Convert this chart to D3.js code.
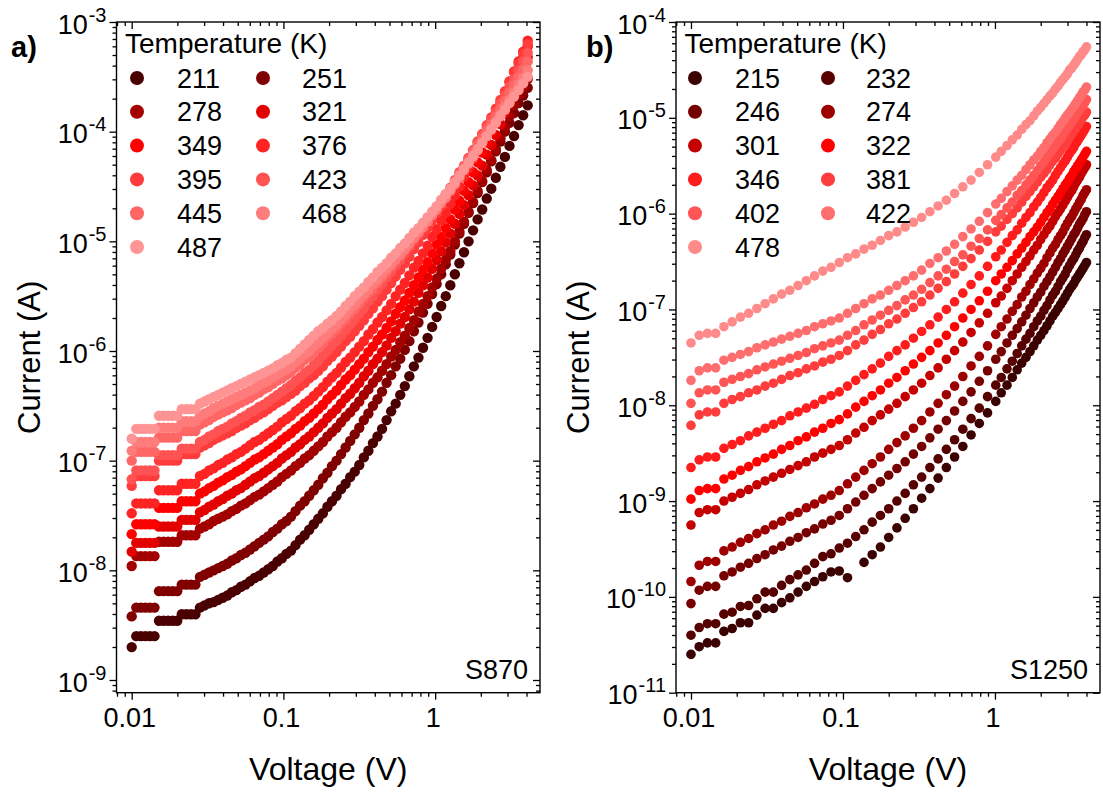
<!DOCTYPE html>
<html>
<head>
<meta charset="utf-8">
<title>I-V curves S870 / S1250</title>
<script src="https://cdn.jsdelivr.net/npm/d3@7/dist/d3.min.js"></script>
<style>
  body { margin: 0; background: #fff; }
  svg text { font-family: "Liberation Sans", Arial, Helvetica, sans-serif; fill: #000; }
</style>
</head>
<body>
<svg id="chart" width="1103" height="794"></svg>
<script>
// voltage steps (V) of the two measurements
const voltageA = [0.0100,0.01072,0.01148,0.01230,0.01318,0.01413,0.01514,0.01622,0.01738,0.01862,0.01995,0.02138,0.02291,0.02455,0.02630,0.02818,0.03020,0.03236,0.03467,0.03715,0.03981,0.04266,0.04571,0.04898,0.05248,0.05623,0.06026,0.06457,0.06918,0.07413,0.07943,0.08511,0.09120,0.09772,0.1047,0.1122,0.1202,0.1288,0.1380,0.1479,0.1585,0.1698,0.1820,0.1950,0.2089,0.2239,0.2399,0.2570,0.2754,0.2951,0.3162,0.3388,0.3631,0.3890,0.4169,0.4467,0.4786,0.5129,0.5495,0.5888,0.6310,0.6761,0.7244,0.7762,0.8318,0.8913,0.9550,1.023,1.096,1.175,1.259,1.349,1.445,1.549,1.660,1.778,1.905,2.042,2.188,2.344,2.512,2.692,2.884,3.090,3.311,3.548,3.802,4.074];
const voltageB = [0.0100,0.01133,0.01283,0.01454,0.01647,0.01866,0.02114,0.02395,0.02714,0.03074,0.03483,0.03946,0.04471,0.05066,0.05740,0.06501,0.07365,0.08345,0.09454,0.1071,0.1213,0.1375,0.1557,0.1764,0.1999,0.2265,0.2566,0.2907,0.3293,0.3731,0.4227,0.4789,0.5425,0.6146,0.6963,0.7888,0.8937,1.012,
                  1.1,1.2,1.3,1.4,1.5,1.6,1.7,1.8,1.9,2.0,2.1,2.2,2.3,2.4,2.5,2.6,2.7,2.8,2.9,3.0,3.1,3.2,3.3,3.4,3.5,3.6,3.7,3.8,3.9,4.0];

// temperatures (K) in the legends
const tempsA = [211, 251, 278, 321, 349, 376, 395, 423, 445, 468, 487];
const tempsB = [215, 232, 246, 274, 301, 322, 346, 381, 402, 422, 478];

const colorsA = ["#4a0000","#800000","#a30000","#e30000","#ff0000","#ff2424","#ff3b3b","#ff5252","#ff6666","#ff7c7c","#ff9494"];
const colorsB = ["#3b0000","#560000","#760000","#9e0000","#c40000","#ff0000","#ff1c1c","#ff3d3d","#ff5555","#ff6e6e","#ff8a8a"];

// sample S870: log10 of current (A) at each voltageA step
const a211 = [-8.70,-8.60,-8.60,-8.60,-8.60,-8.60,-8.46,-8.46,-8.46,-8.46,-8.46,-8.40,-8.40,-8.40,-8.40,-8.34,-8.32,-8.30,-8.29,-8.27,-8.25,-8.23,-8.20,-8.18,-8.15,-8.13,-8.10,-8.07,-8.05,-8.02,-7.99,-7.96,-7.92,-7.89,-7.85,-7.82,-7.77,-7.72,-7.68,-7.63,-7.58,-7.53,-7.48,-7.42,-7.37,-7.32,-7.26,-7.21,-7.15,-7.10,-7.04,-6.97,-6.91,-6.84,-6.78,-6.71,-6.63,-6.55,-6.48,-6.40,-6.32,-6.23,-6.14,-6.06,-5.97,-5.88,-5.78,-5.69,-5.59,-5.50,-5.40,-5.30,-5.20,-5.10,-5.00,-4.90,-4.80,-4.71,-4.61,-4.52,-4.42,-4.32,-4.23,-4.13,-4.04,-3.94,-3.85,-3.76];
const a251 = [-8.42,-8.34,-8.34,-8.34,-8.34,-8.34,-8.19,-8.19,-8.19,-8.19,-8.19,-8.13,-8.13,-8.13,-8.13,-8.06,-8.04,-8.02,-8.00,-7.98,-7.96,-7.94,-7.91,-7.89,-7.86,-7.84,-7.81,-7.78,-7.75,-7.72,-7.69,-7.65,-7.62,-7.58,-7.55,-7.51,-7.46,-7.41,-7.37,-7.32,-7.27,-7.22,-7.16,-7.11,-7.05,-7.00,-6.94,-6.88,-6.82,-6.76,-6.70,-6.63,-6.57,-6.50,-6.44,-6.37,-6.29,-6.22,-6.14,-6.07,-5.99,-5.91,-5.82,-5.74,-5.65,-5.57,-5.48,-5.39,-5.30,-5.21,-5.12,-5.03,-4.93,-4.84,-4.74,-4.65,-4.56,-4.46,-4.37,-4.27,-4.18,-4.09,-4.00,-3.92,-3.83,-3.74,-3.67,-3.60];
const a278 = [-7.96,-7.87,-7.87,-7.87,-7.87,-7.87,-7.74,-7.74,-7.74,-7.74,-7.74,-7.68,-7.68,-7.68,-7.68,-7.62,-7.60,-7.58,-7.55,-7.53,-7.51,-7.49,-7.46,-7.44,-7.41,-7.39,-7.36,-7.33,-7.31,-7.28,-7.25,-7.22,-7.19,-7.15,-7.12,-7.09,-7.05,-7.02,-6.98,-6.95,-6.91,-6.87,-6.83,-6.78,-6.74,-6.70,-6.65,-6.60,-6.56,-6.51,-6.46,-6.40,-6.35,-6.29,-6.24,-6.18,-6.12,-6.05,-5.99,-5.92,-5.86,-5.79,-5.72,-5.64,-5.57,-5.50,-5.42,-5.34,-5.25,-5.17,-5.09,-5.00,-4.91,-4.82,-4.73,-4.64,-4.54,-4.45,-4.35,-4.26,-4.16,-4.06,-3.96,-3.86,-3.76,-3.66,-3.59,-3.52];
const a321 = [-7.83,-7.75,-7.75,-7.75,-7.75,-7.75,-7.60,-7.60,-7.60,-7.60,-7.60,-7.54,-7.54,-7.54,-7.54,-7.47,-7.45,-7.42,-7.40,-7.37,-7.35,-7.32,-7.30,-7.27,-7.25,-7.22,-7.19,-7.16,-7.14,-7.11,-7.08,-7.05,-7.02,-6.98,-6.95,-6.92,-6.88,-6.85,-6.81,-6.78,-6.74,-6.70,-6.66,-6.61,-6.57,-6.53,-6.48,-6.43,-6.39,-6.34,-6.29,-6.23,-6.18,-6.12,-6.07,-6.01,-5.95,-5.88,-5.82,-5.75,-5.69,-5.62,-5.55,-5.47,-5.40,-5.33,-5.25,-5.17,-5.09,-5.01,-4.93,-4.84,-4.75,-4.67,-4.58,-4.49,-4.40,-4.31,-4.21,-4.12,-4.03,-3.93,-3.83,-3.73,-3.63,-3.53,-3.43,-3.32];
const a349 = [-7.67,-7.58,-7.58,-7.58,-7.58,-7.58,-7.43,-7.43,-7.43,-7.43,-7.43,-7.37,-7.37,-7.37,-7.37,-7.30,-7.28,-7.25,-7.23,-7.20,-7.18,-7.15,-7.13,-7.10,-7.08,-7.05,-7.02,-6.99,-6.97,-6.94,-6.91,-6.88,-6.85,-6.81,-6.78,-6.75,-6.71,-6.68,-6.64,-6.61,-6.57,-6.53,-6.49,-6.44,-6.40,-6.36,-6.31,-6.26,-6.22,-6.17,-6.12,-6.07,-6.01,-5.96,-5.90,-5.85,-5.79,-5.73,-5.66,-5.60,-5.54,-5.47,-5.40,-5.33,-5.26,-5.19,-5.11,-5.03,-4.96,-4.88,-4.80,-4.71,-4.63,-4.54,-4.46,-4.37,-4.28,-4.19,-4.10,-4.01,-3.92,-3.82,-3.72,-3.63,-3.53,-3.43,-3.33,-3.22];
const a376 = [-7.48,-7.39,-7.39,-7.39,-7.39,-7.39,-7.27,-7.27,-7.27,-7.27,-7.27,-7.21,-7.21,-7.21,-7.21,-7.14,-7.12,-7.09,-7.07,-7.04,-7.02,-6.99,-6.97,-6.94,-6.92,-6.89,-6.86,-6.83,-6.81,-6.78,-6.75,-6.72,-6.69,-6.65,-6.62,-6.59,-6.55,-6.52,-6.48,-6.45,-6.41,-6.37,-6.33,-6.28,-6.24,-6.20,-6.15,-6.10,-6.06,-6.01,-5.96,-5.91,-5.85,-5.80,-5.74,-5.69,-5.63,-5.57,-5.50,-5.44,-5.38,-5.31,-5.24,-5.18,-5.11,-5.04,-4.96,-4.89,-4.81,-4.74,-4.66,-4.58,-4.50,-4.41,-4.33,-4.25,-4.17,-4.08,-4.00,-3.91,-3.83,-3.74,-3.64,-3.55,-3.45,-3.36,-3.27,-3.17];
const a395 = [-7.23,-7.14,-7.14,-7.14,-7.14,-7.14,-7.00,-7.00,-7.00,-7.00,-7.00,-6.94,-6.94,-6.94,-6.94,-6.88,-6.86,-6.84,-6.81,-6.79,-6.77,-6.75,-6.73,-6.70,-6.68,-6.66,-6.63,-6.61,-6.58,-6.56,-6.53,-6.50,-6.47,-6.45,-6.42,-6.39,-6.36,-6.32,-6.29,-6.25,-6.22,-6.18,-6.14,-6.09,-6.05,-6.01,-5.96,-5.91,-5.87,-5.82,-5.77,-5.72,-5.66,-5.61,-5.55,-5.50,-5.44,-5.38,-5.32,-5.26,-5.20,-5.14,-5.07,-5.01,-4.94,-4.88,-4.81,-4.74,-4.68,-4.61,-4.54,-4.47,-4.39,-4.32,-4.24,-4.17,-4.09,-4.02,-3.94,-3.87,-3.79,-3.71,-3.63,-3.54,-3.46,-3.38,-3.29,-3.20];
const a423 = [-7.17,-7.09,-7.09,-7.09,-7.09,-7.09,-6.95,-6.95,-6.95,-6.95,-6.95,-6.89,-6.89,-6.89,-6.89,-6.83,-6.81,-6.78,-6.76,-6.73,-6.71,-6.69,-6.66,-6.64,-6.61,-6.59,-6.56,-6.54,-6.51,-6.49,-6.46,-6.43,-6.40,-6.37,-6.34,-6.31,-6.27,-6.24,-6.20,-6.17,-6.13,-6.09,-6.04,-6.00,-5.95,-5.91,-5.86,-5.81,-5.76,-5.71,-5.66,-5.61,-5.55,-5.50,-5.44,-5.39,-5.33,-5.28,-5.22,-5.17,-5.11,-5.05,-4.99,-4.94,-4.88,-4.82,-4.76,-4.70,-4.63,-4.57,-4.51,-4.44,-4.37,-4.31,-4.24,-4.17,-4.10,-4.03,-3.96,-3.89,-3.82,-3.74,-3.67,-3.59,-3.52,-3.44,-3.36,-3.28];
const a445 = [-7.00,-6.92,-6.92,-6.92,-6.92,-6.92,-6.79,-6.79,-6.79,-6.79,-6.79,-6.73,-6.73,-6.73,-6.73,-6.67,-6.65,-6.63,-6.60,-6.58,-6.56,-6.54,-6.52,-6.49,-6.47,-6.45,-6.43,-6.40,-6.38,-6.35,-6.33,-6.30,-6.27,-6.25,-6.22,-6.19,-6.15,-6.12,-6.08,-6.05,-6.01,-5.97,-5.93,-5.88,-5.84,-5.80,-5.75,-5.71,-5.66,-5.62,-5.57,-5.52,-5.47,-5.43,-5.38,-5.33,-5.28,-5.23,-5.18,-5.13,-5.08,-5.03,-4.97,-4.92,-4.86,-4.81,-4.75,-4.69,-4.64,-4.58,-4.52,-4.45,-4.39,-4.32,-4.26,-4.19,-4.12,-4.06,-3.99,-3.93,-3.86,-3.79,-3.72,-3.64,-3.57,-3.50,-3.43,-3.36];
const a468 = [-6.91,-6.83,-6.83,-6.83,-6.83,-6.83,-6.70,-6.70,-6.70,-6.70,-6.70,-6.64,-6.64,-6.64,-6.64,-6.59,-6.57,-6.55,-6.52,-6.50,-6.48,-6.46,-6.44,-6.42,-6.40,-6.38,-6.36,-6.34,-6.31,-6.29,-6.27,-6.24,-6.22,-6.19,-6.17,-6.14,-6.10,-6.07,-6.03,-6.00,-5.96,-5.92,-5.88,-5.84,-5.80,-5.76,-5.71,-5.67,-5.62,-5.58,-5.53,-5.48,-5.44,-5.39,-5.35,-5.30,-5.25,-5.21,-5.16,-5.12,-5.07,-5.02,-4.97,-4.92,-4.87,-4.82,-4.76,-4.71,-4.65,-4.60,-4.54,-4.48,-4.42,-4.35,-4.29,-4.23,-4.17,-4.10,-4.04,-3.97,-3.91,-3.84,-3.77,-3.71,-3.64,-3.57,-3.51,-3.44];
const a487 = [-6.80,-6.71,-6.71,-6.71,-6.71,-6.71,-6.59,-6.59,-6.59,-6.59,-6.59,-6.53,-6.53,-6.53,-6.53,-6.48,-6.46,-6.44,-6.42,-6.40,-6.38,-6.36,-6.34,-6.32,-6.30,-6.28,-6.26,-6.24,-6.22,-6.20,-6.18,-6.16,-6.13,-6.11,-6.08,-6.06,-6.02,-5.98,-5.94,-5.90,-5.86,-5.82,-5.79,-5.75,-5.72,-5.68,-5.64,-5.59,-5.55,-5.50,-5.46,-5.42,-5.37,-5.33,-5.28,-5.24,-5.20,-5.15,-5.11,-5.06,-5.02,-4.97,-4.92,-4.88,-4.83,-4.78,-4.73,-4.68,-4.62,-4.57,-4.52,-4.46,-4.40,-4.34,-4.28,-4.22,-4.16,-4.10,-4.04,-3.98,-3.92,-3.86,-3.80,-3.74,-3.68,-3.62,-3.56,-3.50];

// sample S1250: log10 of current (A) at each voltageB step (null = no point)
const b215 = [-10.60,-10.52,-10.48,-10.48,-10.36,-10.33,-10.27,-10.27,-10.19,-10.12,-10.12,-10.06,-10.01,-9.95,-9.89,-9.84,-9.79,-9.74,-9.73,-9.80,null,-9.64,-9.56,-9.48,-9.38,
              -9.28,-9.18,-9.08,-8.97,-8.87,-8.76,-8.65,-8.54,-8.43,-8.31,-8.19,-8.08,-7.96,-7.87,-7.79,-7.71,-7.63,-7.56,-7.50,-7.44,-7.38,-7.32,-7.27,-7.22,-7.17,-7.12,-7.07,-7.03,-6.99,-6.95,-6.91,-6.87,-6.83,-6.79,-6.76,-6.73,-6.69,-6.66,-6.63,-6.60,-6.57,-6.54,-6.51];
const b232 = [-10.40,-10.32,-10.28,-10.28,-10.18,-10.16,-10.10,-10.09,-10.02,-9.95,-9.95,-9.88,-9.82,-9.77,-9.72,-9.65,-9.58,-9.55,-9.49,-9.44,-9.37,-9.30,-9.22,-9.15,-9.08,
              -9.00,-8.92,-8.83,-8.75,-8.65,-8.56,-8.46,-8.36,-8.25,-8.14,-8.03,-7.91,-7.79,-7.71,-7.62,-7.54,-7.46,-7.38,-7.31,-7.25,-7.18,-7.12,-7.07,-7.01,-6.96,-6.90,-6.85,-6.81,-6.76,-6.71,-6.67,-6.63,-6.58,-6.54,-6.50,-6.47,-6.43,-6.39,-6.36,-6.32,-6.29,-6.25,-6.22];
const b246 = [-10.07,-9.93,-9.89,-9.89,-9.78,-9.74,-9.69,-9.65,-9.60,-9.56,-9.51,-9.47,-9.42,-9.38,-9.33,-9.29,-9.24,-9.20,-9.15,-9.08,-9.01,-8.94,-8.87,-8.80,-8.73,
              -8.66,-8.59,-8.51,-8.43,-8.34,-8.25,-8.16,-8.06,-7.96,-7.86,-7.75,-7.64,-7.52,-7.44,-7.35,-7.27,-7.20,-7.13,-7.06,-6.99,-6.93,-6.87,-6.82,-6.76,-6.71,-6.66,-6.61,-6.56,-6.51,-6.47,-6.42,-6.38,-6.34,-6.30,-6.26,-6.22,-6.19,-6.15,-6.11,-6.08,-6.05,-6.01,-5.98];
const b274 = [-9.84,-9.67,-9.63,-9.63,-9.52,-9.48,-9.43,-9.39,-9.34,-9.30,-9.25,-9.21,-9.16,-9.12,-9.07,-9.03,-8.98,-8.94,-8.89,-8.82,-8.75,-8.68,-8.61,-8.54,-8.46,
              -8.39,-8.32,-8.24,-8.16,-8.07,-7.98,-7.89,-7.80,-7.70,-7.59,-7.49,-7.38,-7.26,-7.18,-7.10,-7.02,-6.95,-6.87,-6.81,-6.74,-6.68,-6.62,-6.57,-6.52,-6.46,-6.41,-6.36,-6.32,-6.27,-6.23,-6.19,-6.14,-6.10,-6.06,-6.03,-5.99,-5.95,-5.92,-5.88,-5.85,-5.81,-5.78,-5.75];
const b301 = [-9.25,-9.12,-9.09,-9.09,-9.00,-8.96,-8.92,-8.88,-8.83,-8.79,-8.75,-8.71,-8.67,-8.63,-8.59,-8.54,-8.50,-8.46,-8.42,-8.36,-8.29,-8.23,-8.16,-8.10,-8.04,
              -7.98,-7.91,-7.84,-7.77,-7.69,-7.61,-7.52,-7.43,-7.34,-7.24,-7.14,-7.04,-6.93,-6.86,-6.78,-6.70,-6.63,-6.56,-6.50,-6.44,-6.38,-6.33,-6.27,-6.22,-6.17,-6.13,-6.08,-6.03,-5.99,-5.95,-5.91,-5.87,-5.83,-5.79,-5.76,-5.72,-5.68,-5.65,-5.62,-5.58,-5.55,-5.52,-5.49];
const b322 = [-8.98,-8.89,-8.87,-8.87,-8.77,-8.73,-8.68,-8.64,-8.59,-8.55,-8.51,-8.46,-8.42,-8.37,-8.33,-8.28,-8.24,-8.19,-8.15,-8.09,-8.02,-7.96,-7.90,-7.84,-7.77,
              -7.71,-7.64,-7.57,-7.50,-7.43,-7.35,-7.27,-7.18,-7.09,-7.00,-6.91,-6.81,-6.70,-6.63,-6.56,-6.49,-6.42,-6.36,-6.30,-6.24,-6.19,-6.14,-6.09,-6.04,-5.99,-5.95,-5.90,-5.86,-5.82,-5.78,-5.74,-5.70,-5.67,-5.63,-5.60,-5.56,-5.53,-5.50,-5.47,-5.44,-5.41,-5.38,-5.35];
const b346 = [-8.65,-8.57,-8.54,-8.54,-8.45,-8.41,-8.37,-8.32,-8.28,-8.24,-8.20,-8.16,-8.11,-8.07,-8.03,-7.99,-7.94,-7.90,-7.86,-7.80,-7.74,-7.68,-7.62,-7.56,-7.49,
              -7.43,-7.37,-7.30,-7.23,-7.16,-7.08,-7.00,-6.92,-6.83,-6.74,-6.65,-6.55,-6.45,-6.38,-6.30,-6.23,-6.17,-6.10,-6.04,-5.99,-5.93,-5.88,-5.83,-5.78,-5.73,-5.69,-5.65,-5.60,-5.56,-5.52,-5.48,-5.45,-5.41,-5.37,-5.34,-5.31,-5.27,-5.24,-5.21,-5.18,-5.15,-5.12,-5.09];
const b381 = [-8.21,-8.10,-8.07,-8.07,-7.98,-7.94,-7.91,-7.87,-7.84,-7.80,-7.77,-7.73,-7.69,-7.66,-7.62,-7.59,-7.55,-7.52,-7.48,-7.43,-7.37,-7.32,-7.26,-7.21,-7.15,
              -7.10,-7.04,-6.98,-6.92,-6.85,-6.78,-6.71,-6.63,-6.55,-6.47,-6.38,-6.29,-6.19,-6.13,-6.06,-6.00,-5.94,-5.88,-5.82,-5.77,-5.72,-5.67,-5.62,-5.58,-5.54,-5.49,-5.45,-5.42,-5.38,-5.34,-5.30,-5.27,-5.24,-5.20,-5.17,-5.14,-5.11,-5.08,-5.05,-5.02,-4.99,-4.97,-4.94];
const b402 = [-7.98,-7.87,-7.84,-7.84,-7.76,-7.73,-7.70,-7.67,-7.63,-7.60,-7.57,-7.54,-7.51,-7.48,-7.45,-7.41,-7.38,-7.35,-7.32,-7.27,-7.22,-7.16,-7.11,-7.06,-7.01,
              -6.96,-6.90,-6.85,-6.79,-6.72,-6.65,-6.58,-6.50,-6.43,-6.34,-6.26,-6.17,-6.07,-6.01,-5.94,-5.88,-5.81,-5.76,-5.70,-5.65,-5.60,-5.55,-5.50,-5.46,-5.41,-5.37,-5.33,-5.29,-5.25,-5.22,-5.18,-5.14,-5.11,-5.08,-5.04,-5.01,-4.98,-4.95,-4.92,-4.89,-4.87,-4.84,-4.81];
const b422 = [-7.74,-7.64,-7.61,-7.61,-7.53,-7.50,-7.47,-7.44,-7.40,-7.37,-7.34,-7.31,-7.28,-7.25,-7.22,-7.18,-7.15,-7.12,-7.09,-7.04,-6.99,-6.94,-6.89,-6.85,-6.80,
              -6.75,-6.70,-6.65,-6.59,-6.52,-6.46,-6.39,-6.32,-6.24,-6.16,-6.08,-5.99,-5.90,-5.84,-5.77,-5.71,-5.65,-5.60,-5.54,-5.49,-5.44,-5.40,-5.35,-5.31,-5.26,-5.22,-5.18,-5.15,-5.11,-5.07,-5.04,-5.00,-4.97,-4.94,-4.91,-4.88,-4.85,-4.82,-4.79,-4.76,-4.73,-4.71,-4.68];
const b478 = [-7.35,-7.27,-7.25,-7.25,-7.18,-7.13,-7.08,-7.04,-6.99,-6.94,-6.89,-6.84,-6.80,-6.75,-6.70,-6.65,-6.60,-6.56,-6.51,-6.46,-6.42,-6.37,-6.33,-6.28,-6.23,
              -6.19,-6.14,-6.09,-6.04,-5.98,-5.92,-5.86,-5.79,-5.72,-5.65,-5.57,-5.49,-5.41,-5.35,-5.29,-5.23,-5.18,-5.12,-5.07,-5.03,-4.98,-4.93,-4.89,-4.85,-4.81,-4.77,-4.74,-4.70,-4.67,-4.63,-4.60,-4.57,-4.54,-4.50,-4.48,-4.45,-4.42,-4.39,-4.36,-4.34,-4.31,-4.29,-4.26];

// axis ticks
const xMajor = [0.01, 0.1, 1];
const xLabels = ["0.01", "0.1", "1"];
const xMinor = [0.008, 0.009, 0.02, 0.03, 0.04, 0.05, 0.06, 0.07, 0.08, 0.09,
                0.2, 0.3, 0.4, 0.5, 0.6, 0.7, 0.8, 0.9, 2, 3, 4];
const yExpA = [-9, -8, -7, -6, -5, -4, -3];
const yExpB = [-11, -10, -9, -8, -7, -6, -5, -4];

const svg = d3.select("#chart");

const panels = [
    { id: "a", tag: "a)", tagX: 11, sample: "S870", left: 116.5, right: 540, top: 22, bottom: 692.7,
      xDomain: [0.00794, 4.91], yDomain: [7.66e-10, 1e-3], yExp: yExpA,
      voltage: voltageA, series: [a211, a251, a278, a321, a349, a376, a395, a423, a445, a468, a487],
      temps: tempsA, colors: colorsA, r: 5.2,
      legMarker: [20.5, 146.5], legText: [60.5, 185.5], yTitleX: 40 },
    { id: "b", tag: "b)", tagX: 586, sample: "S1250", left: 676, right: 1100, top: 22, bottom: 692.7,
      xDomain: [0.00797, 4.91], yDomain: [1e-11, 1e-4], yExp: yExpB,
      voltage: voltageB, series: [b215, b232, b246, b274, b301, b322, b346, b381, b402, b422, b478],
      temps: tempsB, colors: colorsB, r: 4.8,
      legMarker: [19, 152], legText: [59, 190], yTitleX: 589 }
];

panels.forEach(drawPanel);

function drawPanel(p) {
    const x = d3.scaleLog().domain(p.xDomain).range([p.left, p.right]);
    const y = d3.scaleLog().domain(p.yDomain).range([p.bottom, p.top]);
    const g = svg.append("g").attr("class", "panel-" + p.id);

    // clip so markers stay inside the frame
    const clipId = "clip-" + p.id;
    svg.append("clipPath").attr("id", clipId)
        .append("rect")
        .attr("x", p.left).attr("y", p.top)
        .attr("width", p.right - p.left).attr("height", p.bottom - p.top);

    const plot = g.append("g").attr("clip-path", `url(#${clipId})`);
    p.series.forEach((vals, i) => {
        const pts = vals.map((v, k) => [p.voltage[k], v]).filter(d => d[1] !== null);
        plot.append("g")
            .attr("fill", p.colors[i])
            .selectAll("circle")
            .data(pts)
            .join("circle")
            .attr("cx", d => x(d[0]))
            .attr("cy", d => y(Math.pow(10, d[1])))
            .attr("r", p.r);
    });

    // ticks: bottom/left point out, top/right point in
    const yMajor = p.yExp.map(e => Math.pow(10, e));
    const yMinor = [];
    for (let e = p.yExp[0] - 1; e <= p.yExp[p.yExp.length - 1]; e++) {
        for (let m = 2; m <= 9; m++) {
            const v = m * Math.pow(10, e);
            if (v >= p.yDomain[0] && v <= p.yDomain[1]) yMinor.push(v);
        }
    }

    const tickAxis = (axisFn, scale, vals, size, transform) => {
        g.append("g")
            .attr("transform", transform)
            .call(axisFn(scale).tickValues(vals).tickSize(size).tickSizeOuter(0).tickFormat(""))
            .call(a => a.select(".domain").remove())
            .call(a => a.selectAll("line").attr("stroke", "#000").attr("stroke-width", 1.3));
    };

    tickAxis(d3.axisBottom, x, xMajor, 7, `translate(0,${p.bottom})`);
    tickAxis(d3.axisBottom, x, xMinor, 4, `translate(0,${p.bottom})`);
    tickAxis(d3.axisBottom, x, xMajor, 7, `translate(0,${p.top})`);
    tickAxis(d3.axisBottom, x, xMinor, 4, `translate(0,${p.top})`);
    tickAxis(d3.axisLeft, y, yMajor, 7, `translate(${p.left},0)`);
    tickAxis(d3.axisLeft, y, yMinor, 4, `translate(${p.left},0)`);
    tickAxis(d3.axisLeft, y, yMajor, 7, `translate(${p.right},0)`);
    tickAxis(d3.axisLeft, y, yMinor, 4, `translate(${p.right},0)`);

    // frame
    g.append("rect")
        .attr("x", p.left).attr("y", p.top)
        .attr("width", p.right - p.left).attr("height", p.bottom - p.top)
        .attr("fill", "none").attr("stroke", "#000").attr("stroke-width", 1.4);

    // x tick labels
    g.selectAll(".xlab")
        .data(xMajor)
        .join("text")
        .attr("class", "xlab")
        .attr("x", d => x(d) - 2)
        .attr("y", 727)
        .attr("text-anchor", "middle")
        .style("font-size", "27px")
        .text((d, i) => xLabels[i]);

    // y tick labels as 10^n
    const ylab = g.selectAll(".ylab")
        .data(p.yExp)
        .join("text")
        .attr("class", "ylab")
        .attr("x", p.left - 10)
        .attr("y", d => y(Math.pow(10, d)) + 11.5)
        .attr("text-anchor", "end");
    ylab.append("tspan").style("font-size", "27px").text("10");
    ylab.append("tspan").style("font-size", "20px").attr("dx", 1).attr("dy", -12).text(d => String(d));

    // axis titles
    g.append("text")
        .attr("x", (p.left + p.right) / 2)
        .attr("y", 780)
        .attr("text-anchor", "middle")
        .style("font-size", "32px")
        .text("Voltage (V)");
    g.append("text")
        .attr("transform", `translate(${p.yTitleX},${(p.top + p.bottom) / 2}) rotate(-90)`)
        .attr("text-anchor", "middle")
        .style("font-size", "31px")
        .text("Current (A)");

    // panel tag and sample name
    g.append("text")
        .attr("x", p.tagX).attr("y", 57)
        .style("font-size", "29px").style("font-weight", "bold")
        .text(p.tag);
    g.append("text")
        .attr("x", p.right - 12).attr("y", 679)
        .attr("text-anchor", "end")
        .style("font-size", "27px")
        .text(p.sample);

    // legend, two columns
    g.append("text")
        .attr("x", p.left + 8.5).attr("y", 52.5)
        .style("font-size", "28px")
        .text("Temperature (K)");
    const leg = g.selectAll(".leg")
        .data(p.temps)
        .join("g")
        .attr("class", "leg")
        .attr("transform", (d, i) => `translate(${p.left},${78 + 33.8 * Math.floor(i / 2)})`);
    leg.append("circle")
        .attr("cx", (d, i) => p.legMarker[i % 2])
        .attr("cy", 0)
        .attr("r", 7)
        .attr("fill", (d, i) => p.colors[i]);
    leg.append("text")
        .attr("x", (d, i) => p.legText[i % 2])
        .attr("y", 9.5)
        .style("font-size", "27px")
        .text(d => d);
}
</script>
</body>
</html>
